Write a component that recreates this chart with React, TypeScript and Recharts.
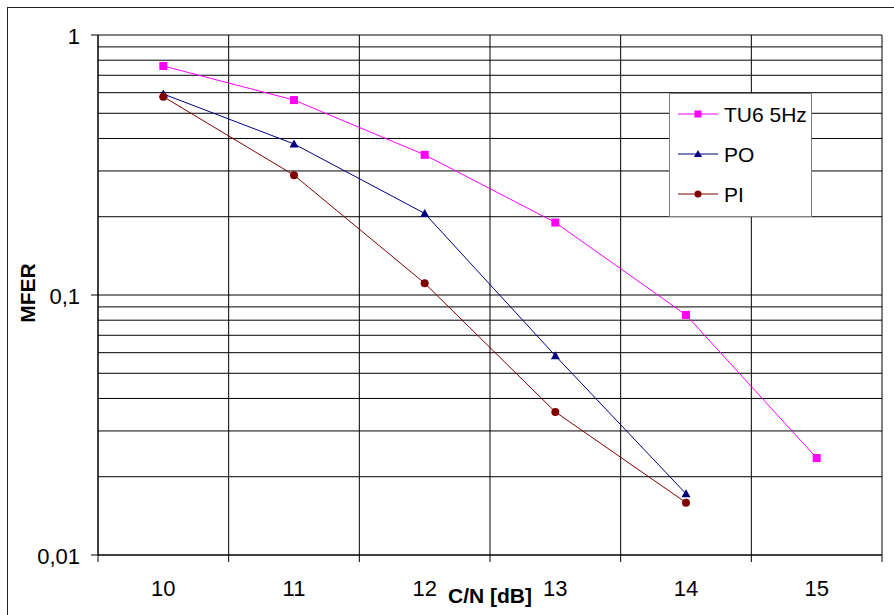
import React from 'react';
import {
  LineChart,
  Line,
  XAxis,
  YAxis,
  CartesianGrid,
  ReferenceLine,
  Legend,
  Label,
} from 'recharts';

const categories = [10, 11, 12, 13, 14, 15];
const tu6 = [0.76, 0.562, 0.346, 0.19, 0.0838, 0.0236];
const po = [0.593, 0.381, 0.206, 0.0584, 0.0172, null];
const pi = [0.579, 0.289, 0.111, 0.0355, 0.0159, null];

const yTicks = [
  0.01, 0.02, 0.03, 0.04, 0.05, 0.06, 0.07, 0.08, 0.09,
  0.1, 0.2, 0.3, 0.4, 0.5, 0.6, 0.7, 0.8, 0.9, 1,
];
const yMajor = [0.01, 0.1, 1];
const yLabels: Record<string, string> = { '0.01': '0,01', '0.1': '0,1', '1': '1' };
const xBounds = [9.5, 10.5, 11.5, 12.5, 13.5, 14.5, 15.5];
const xTicks = [...xBounds, ...categories].sort((a, b) => a - b);

const series = [
  { key: 'tu6', name: 'TU6 5Hz', color: '#FF00FF', shape: 'square' },
  { key: 'po', name: 'PO', color: '#000080', shape: 'triangle' },
  { key: 'pi', name: 'PI', color: '#800000', shape: 'circle' },
];

const data = categories.map((c, i) => ({ x: c, tu6: tu6[i], po: po[i], pi: pi[i] }));

const FONT = '"Liberation Sans", Arial, sans-serif';

function Marker({ cx, cy, shape, color, size }: any) {
  if (cx == null || cy == null || isNaN(cx) || isNaN(cy)) return null;
  const h = size / 2;
  if (shape === 'square')
    return <rect x={cx - h} y={cy - h} width={size} height={size} fill={color} />;
  if (shape === 'triangle')
    return (
      <polygon
        points={`${cx},${cy - h - 0.5} ${cx + h + 0.5},${cy + h - 0.5} ${cx - h - 0.5},${cy + h - 0.5}`}
        fill={color}
      />
    );
  return <circle cx={cx} cy={cy} r={h} fill={color} />;
}

const makeDot = (shape: string, color: string) => (props: any) => (
  <Marker key={`${shape}-${props.index}`} cx={props.cx} cy={props.cy} shape={shape} color={color} size={8} />
);

function YTick({ x, y, payload }: any) {
  const v = payload.value;
  const major = yMajor.some((m) => Math.abs(m - v) < 1e-9);
  if (!major) return null;
  return (
    <g>
      <line x1={x + 11} x2={x + 18} y1={y} y2={y} stroke="#000" />
      <text x={x} y={y} dy={9} textAnchor="end" fontSize={22} fontFamily={FONT} fill="#000">
        {yLabels[String(v)]}
      </text>
    </g>
  );
}

function XTick({ x, y, payload }: any) {
  const v = payload.value;
  if (xBounds.includes(v)) {
    return <line x1={x} x2={x} y1={y - 9} y2={y - 2} stroke="#000" />;
  }
  return (
    <text x={x} y={y} dy={32} textAnchor="middle" fontSize={22} fontFamily={FONT} fill="#000">
      {String(v)}
    </text>
  );
}

function LegendBox() {
  return (
    <svg width={143} height={124} style={{ display: 'block' }}>
      <rect x={0.5} y={0.5} width={142} height={123} fill="#fff" stroke="#808080" />
      {series.map((s, i) => {
        const ry = 21 + i * 40;
        return (
          <g key={s.key}>
            <line x1={9} x2={49} y1={ry} y2={ry} stroke={s.color} strokeWidth={1} />
            <Marker cx={29} cy={ry} shape={s.shape} color={s.color} size={7} />
            <text x={55} y={ry + 8} fontSize={21} fontFamily={FONT} fill="#000">
              {s.name}
            </text>
          </g>
        );
      })}
    </svg>
  );
}

export default function App() {
  return (
    <div
      style={{
        position: 'absolute',
        left: 7,
        top: 7,
        width: 900,
        height: 620,
        borderLeft: '1px solid #222',
        borderTop: '1px solid #222',
        background: '#fff',
      }}
    >
      <LineChart
        width={886}
        height={607}
        data={data}
        margin={{ top: 27, right: 12, left: 0, bottom: 0 }}
      >
        <CartesianGrid vertical={false} stroke="#000" strokeWidth={1} />
        <XAxis
          dataKey="x"
          type="number"
          domain={[9.5, 15.5]}
          ticks={xTicks}
          interval={0}
          tickLine={false}
          tickSize={7}
          tickMargin={2}
          axisLine={{ stroke: '#000' }}
          tick={<XTick />}
          height={60}
          allowDataOverflow
        >
          <Label
            content={(p: any) => {
              const vb = p.viewBox;
              return (
                <text
                  x={vb.x + vb.width / 2}
                  y={vb.y + vb.height - 12}
                  textAnchor="middle"
                  fontSize={21}
                  fontWeight="bold"
                  fontFamily={FONT}
                  fill="#000"
                >
                  C/N [dB]
                </text>
              );
            }}
          />
        </XAxis>
        <YAxis
          scale="log"
          type="number"
          domain={[0.01, 1]}
          ticks={yTicks}
          interval={0}
          allowDataOverflow
          width={90}
          tickLine={false}
          tickSize={7}
          tickMargin={11}
          axisLine={{ stroke: '#000' }}
          tick={<YTick />}
        >
          <Label
            content={(p: any) => {
              const vb = p.viewBox;
              const cx = vb.x + 27;
              const cy = vb.y + vb.height / 2 - 2;
              return (
                <text
                  x={cx}
                  y={cy}
                  transform={`rotate(-90 ${cx} ${cy})`}
                  textAnchor="middle"
                  fontSize={21}
                  fontWeight="bold"
                  fontFamily={FONT}
                  fill="#000"
                >
                  MFER
                </text>
              );
            }}
          />
        </YAxis>
        {xBounds.map((b) => (
          <ReferenceLine key={b} x={b} stroke="#000" strokeWidth={1} />
        ))}
        <Legend
          layout="horizontal"
          verticalAlign="middle"
          align="center"
          content={() => <LegendBox />}
          wrapperStyle={{ left: 661, top: 85, width: 143, height: 124 }}
        />
        {series.map((s) => (
          <Line
            key={s.key}
            dataKey={s.key}
            name={s.name}
            stroke={s.color}
            strokeWidth={1}
            isAnimationActive={false}
            dot={makeDot(s.shape, s.color)}
            activeDot={false}
            connectNulls={false}
          />
        ))}
      </LineChart>
    </div>
  );
}
